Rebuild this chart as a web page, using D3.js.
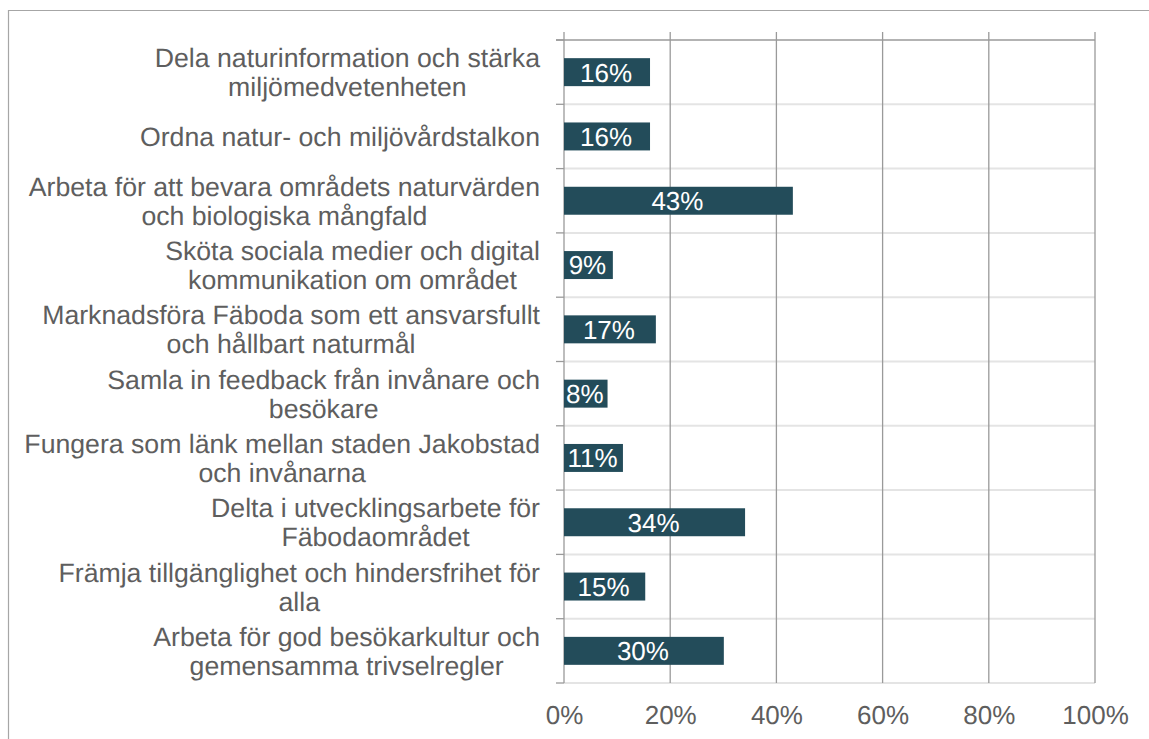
<!DOCTYPE html>
<html>
<head>
<meta charset="utf-8">
<script src="https://cdn.jsdelivr.net/npm/d3@7"></script>
<style>
  html, body { margin: 0; padding: 0; background: #fff; }
  svg { display: block; }
  text { font-family: "Liberation Sans", Arial, sans-serif; text-rendering: geometricPrecision; }
</style>
</head>
<body>
<svg id="chart" width="1149" height="739"></svg>
<script>
const categories = [
  "Dela naturinformation och stärka\nmiljömedvetenheten",
  "Ordna natur- och miljövårdstalkon",
  "Arbeta för att bevara områdets naturvärden\noch biologiska mångfald",
  "Sköta sociala medier och digital\nkommunikation om området",
  "Marknadsföra Fäboda som ett ansvarsfullt\noch hållbart naturmål",
  "Samla in feedback från invånare och\nbesökare",
  "Fungera som länk mellan staden Jakobstad\noch invånarna",
  "Delta i utvecklingsarbete för\nFäbodaområdet",
  "Främja tillgänglighet och hindersfrihet för\nalla",
  "Arbeta för god besökarkultur och\ngemensamma trivselregler"
];
const values = [16.2, 16.2, 43.1, 9.2, 17.3, 8.2, 11.1, 34.1, 15.3, 30.1];
const tickValues = [0, 20, 40, 60, 80, 100];
const tickLabels = ["0%", "20%", "40%", "60%", "80%", "100%"];

const svg = d3.select("#chart");
const plot = { left: 564, right: 1095, top: 40, bottom: 683 };

// outer frame
svg.append("line").attr("x1", 8).attr("x2", 1149).attr("y1", 10.5).attr("y2", 10.5)
  .attr("stroke", "#a6a6a6").attr("stroke-width", 1.2);
svg.append("line").attr("x1", 8.5).attr("x2", 8.5).attr("y1", 10).attr("y2", 739)
  .attr("stroke", "#a6a6a6").attr("stroke-width", 1.2);

const x = d3.scaleLinear().domain([0, 100]).range([plot.left, plot.right]);
const y = d3.scaleBand().domain(d3.range(categories.length))
  .range([plot.top, plot.bottom]).paddingInner(0.565).paddingOuter(0.2825);
const band = (plot.bottom - plot.top) / categories.length;

// light category separators
const seps = d3.range(1, categories.length + 1).map(i => plot.top + i * band);
svg.append("g").selectAll("line").data(seps).join("line")
  .attr("x1", plot.left).attr("x2", plot.right)
  .attr("y1", d => d).attr("y2", d => d)
  .attr("stroke", "#e4e4e4").attr("stroke-width", 2);

// top line
svg.append("line").attr("x1", 556).attr("x2", plot.right)
  .attr("y1", plot.top).attr("y2", plot.top)
  .attr("stroke", "#9a9a9a").attr("stroke-width", 1.3);

// left category ticks
const bounds = d3.range(0, categories.length + 1).map(i => plot.top + i * band);
svg.append("g").selectAll("line").data(bounds).join("line")
  .attr("x1", 556).attr("x2", plot.left)
  .attr("y1", d => d).attr("y2", d => d)
  .attr("stroke", "#9a9a9a").attr("stroke-width", 1.3);

// vertical gridlines
svg.append("g").selectAll("line").data(tickValues).join("line")
  .attr("x1", d => x(d)).attr("x2", d => x(d))
  .attr("y1", 32).attr("y2", plot.bottom)
  .attr("stroke", "#9a9a9a").attr("stroke-width", 1.3);

// x axis labels
const xAxis = d3.axisBottom(x).tickValues(tickValues)
  .tickFormat((d, i) => tickLabels[i]).tickSize(0).tickPadding(0);
const gx = svg.append("g").attr("transform", `translate(0, ${plot.bottom + 21})`).call(xAxis);
gx.select(".domain").remove();
gx.selectAll("text").attr("fill", "#5e5e5e").style("font-size", "26px")
  .style("font-family", '"Liberation Sans", Arial, sans-serif')
  .attr("dy", "0.76em").attr("y", 0);

// bars
const defs = svg.append("defs");
const bars = svg.append("g");
values.forEach((v, i) => {
  const bx = x(0), by = y(i), bw = x(v) - x(0), bh = y.bandwidth();
  defs.append("clipPath").attr("id", "clip" + i)
    .append("rect").attr("x", bx).attr("y", by).attr("width", bw).attr("height", bh);
  bars.append("rect").attr("x", bx).attr("y", by).attr("width", bw).attr("height", bh)
    .attr("fill", "#234c5a");
  bars.append("text").attr("clip-path", `url(#clip${i})`)
    .attr("x", bx + bw / 2 - 1).attr("y", by + bh / 2)
    .attr("dy", "0.36em").attr("text-anchor", "middle")
    .attr("fill", "#ffffff").style("font-size", "26px")
    .text(d3.format(".0f")(v) + "%");
});

// category labels
const lineH = 29;
const labels = svg.append("g");
categories.forEach((c, i) => {
  const lines = c.split("\n");
  const cy = y(i) + y.bandwidth() / 2;
  const g = labels.append("g");
  const ts = lines.map((ln, j) => g.append("text")
    .attr("y", cy + (j - (lines.length - 1) / 2) * lineH)
    .attr("dy", "0.36em")
    .attr("text-anchor", "middle")
    .attr("fill", "#5e5e5e").style("font-size", "26.67px")
    .text(ln));
  const maxW = d3.max(ts, t => t.node().getComputedTextLength());
  ts.forEach(t => t.attr("x", 540 - maxW / 2));
});
</script>
</body>
</html>
